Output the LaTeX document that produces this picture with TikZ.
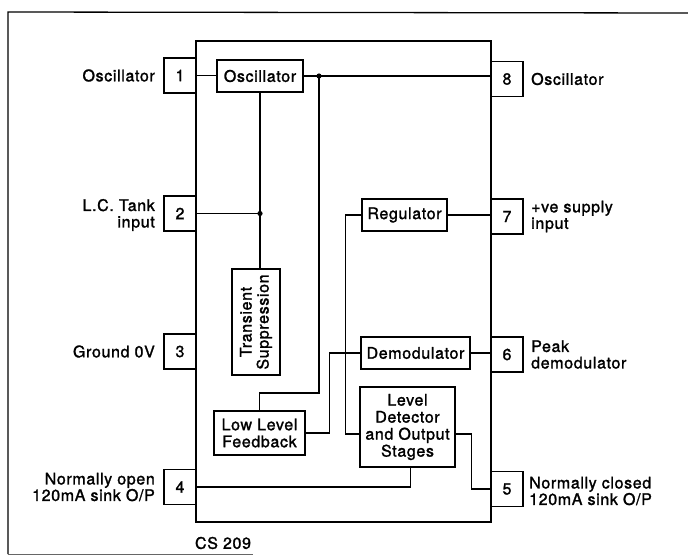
\documentclass[tikz,border=0pt]{standalone}
\usepackage{fontspec}
\setmainfont{TeX Gyre Heros}[FakeBold=1.5,LetterSpace=4]
\usetikzlibrary{positioning,calc}
\tikzstyle{block} = [rectangle, draw=black, line width=1.3pt, inner sep=0pt, align=center, font=\fontsize{16}{17}\selectfont]
\tikzstyle{pinbox} = [rectangle, draw=black, line width=1.3pt, fill=white, minimum width=32pt, minimum height=35pt, inner sep=0pt, font=\fontsize{16}{17}\selectfont]
\tikzstyle{pinlabel} = [inner sep=0pt, font=\fontsize{16}{16.5}\selectfont]
\tikzstyle{wire} = [line width=1.3pt]

\begin{document}
\begin{tikzpicture}[x=1pt,y=-1pt]
\useasboundingbox (0,0) rectangle (688,555);
% frame
\draw [wire] (688,13) -- (8,12) -- (8,554);
\draw [line width=0.8pt, black!60] (8,554) -- (253,554);
% chip body
\draw [wire] (196,41) rectangle (491,522);

% pins
\node (pin1) [pinbox] at (180,75.5) {1};
\node (pin2) [pinbox] at (180,213.5) {2};
\node (pin3) [pinbox] at (180,351.5) {3};
\node (pin4) [pinbox] at (180,487) {4};
\node (pin8) [pinbox] at (507,79) {8};
\node (pin7) [pinbox] at (507,216.5) {7};
\node (pin6) [pinbox] at (507,354.5) {6};
\node (pin5) [pinbox] at (507,489) {5};

% pin labels
\node (lab1) [pinlabel, anchor=east] at (155,75.5) {Oscillator};
\node (lab2) [pinlabel, anchor=east, align=right] at (155,215) {L.C. Tank\\input};
\node (lab3) [pinlabel, anchor=east] at (155,351.5) {Ground 0V};
\node (lab4) [pinlabel, anchor=east, align=right] at (155,487) {Normally open\\120mA sink O/P};
\node (lab8) [pinlabel, anchor=west] at (531,79) {Oscillator};
\node (lab7) [pinlabel, anchor=west, align=left] at (531,216.5) {+ve supply\\input};
\node (lab6) [pinlabel, anchor=west, align=left] at (531,354.5) {Peak\\demodulator};
\node (lab5) [pinlabel, anchor=west, align=left] at (529,491) {Normally closed\\120mA sink O/P};

% blocks
\node (osc) [block, minimum width=86pt, minimum height=32pt] at (260,76) {Oscillator};
\node (trans) [block, rotate=90, minimum width=106pt, minimum height=48pt] at (256,322) {Transient\\Suppression};
\node (llf) [block, minimum width=91pt, minimum height=44pt] at (259.5,433) {Low Level\\Feedback};
\node (reg) [block, minimum width=85pt, minimum height=32pt] at (404.5,215) {Regulator};
\node (demod) [block, minimum width=109pt, minimum height=32pt] at (415.5,353) {Demodulator};
\node (lvl) [block, minimum width=95pt, minimum height=80pt] at (407.5,427) {Level\\Detector\\and Output\\Stages};
\node (chip) [pinlabel] at (223,543) {CS 209};

% junctions
\coordinate (oscj) at (319,76);
\coordinate (tankj) at (osc.south |- pin2.east);
\fill (oscj) circle (2.6);
\fill (tankj) circle (2.6);

% wires
\draw [wire] (pin1.east) -- (pin1.east -| osc.west);
\draw [wire] (osc.east) -- (osc.east -| pin8.west);
\draw [wire] (pin2.east) -- (tankj);
\draw [wire] (osc.south) -- (osc.south |- trans.east);
\draw [wire] (oscj) -- ++(0,317) -| (llf.north);
\draw [wire] (reg.east) -- (reg.east -| pin7.west);
\draw [wire] (reg.west) -- ++(-16,0) |- ($(lvl.west)+(0,7)$);
\draw [wire] (llf.east) -- ++(24,0) |- (demod.west);
\draw [wire] (demod.east) -- (demod.east -| pin6.west);
\draw [wire] ($(lvl.east)+(0,7)$) -- ++(16,0) |- (pin5.west);
\draw [wire] ($(lvl.south)+(3,0)$) |- (pin4.east);
\end{tikzpicture}
\end{document}
